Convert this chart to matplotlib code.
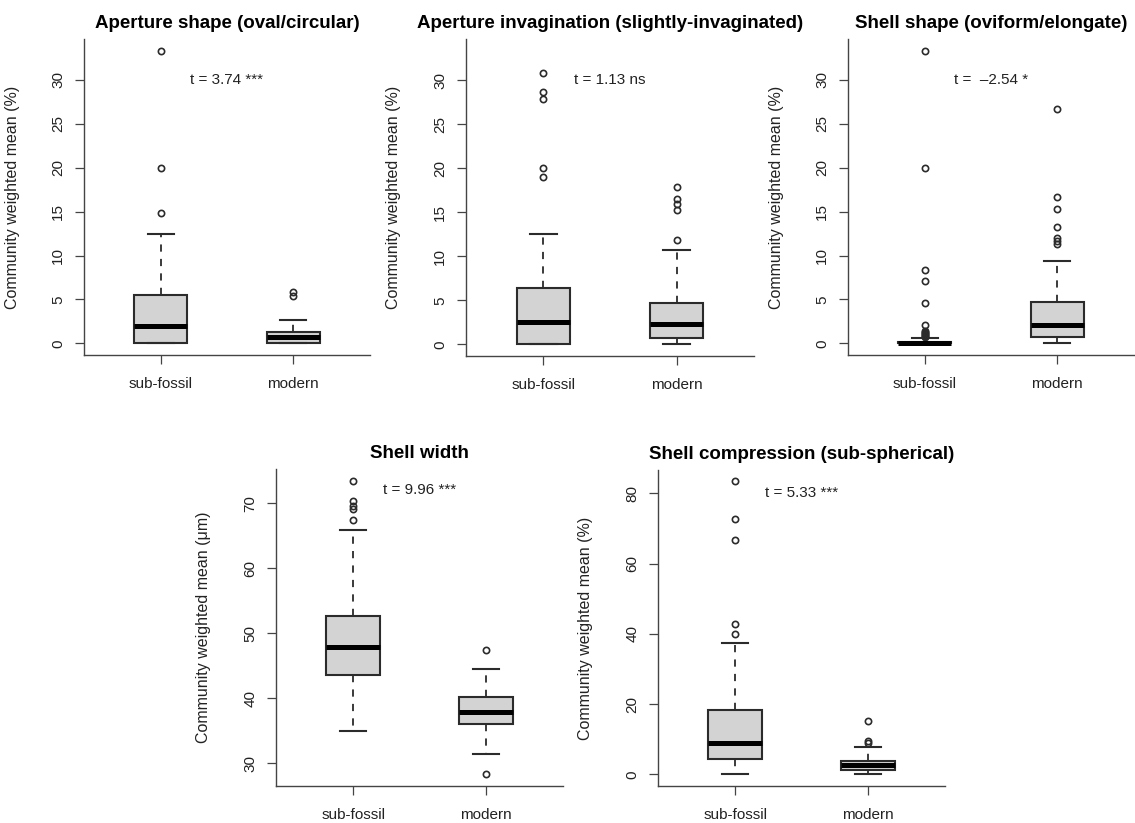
import matplotlib
matplotlib.use("Agg")
import matplotlib.pyplot as plt

plt.rcParams['font.family'] = ['Liberation Sans', 'DejaVu Sans']

groups = ["sub-fossil", "modern"]

titles = ["Aperture shape (oval/circular)",
          "Aperture invagination (slightly-invaginated)",
          "Shell shape (oviform/elongate)",
          "Shell width",
          "Shell compression (sub-spherical)"]
ylabels = ["Community weighted mean (%)"] * 3 + \
          ["Community weighted mean (\u03bcm)", "Community weighted mean (%)"]
t_labels = ["t = 3.74 ***", "t = 1.13 ns", "t =  \u20132.54 *",
            "t = 9.96 ***", "t = 5.33 ***"]
t_ypos = [30, 30, 30, 72, 80]

# box stats: whislo, q1, median, q3, whishi
ap_shape_sub = [0, 0, 2.0, 5.5, 12.5]
ap_shape_sub_out = [14.9, 20.0, 33.3]
ap_shape_mod = [0, 0, 0.7, 1.33, 2.65]
ap_shape_mod_out = [5.4, 5.9]

ap_inv_sub = [0, 0, 2.5, 6.35, 12.5]
ap_inv_sub_out = [19.0, 20.0, 27.9, 28.7, 30.8]
ap_inv_mod = [0, 0.68, 2.33, 4.66, 10.66]
ap_inv_mod_out = [11.8, 15.3, 15.9, 16.5, 17.9]

sh_shape_sub = [0, 0, 0.05, 0.2, 0.55]
sh_shape_sub_out = [0.7, 0.85, 1.0, 1.1, 1.2, 1.3, 1.45, 2.1, 4.55, 7.15, 8.3, 20.0, 33.3]
sh_shape_mod = [0, 0.68, 2.1, 4.7, 9.37]
sh_shape_mod_out = [11.3, 11.7, 12.0, 13.3, 15.35, 16.65, 26.7]

sh_width_sub = [34.97, 43.54, 47.85, 52.67, 65.9]
sh_width_sub_out = [67.5, 69.2, 69.6, 70.4, 73.5]
sh_width_mod = [31.5, 36.05, 37.85, 40.26, 44.46]
sh_width_mod_out = [28.4, 47.5]

sh_comp_sub = [0, 4.37, 9.03, 18.24, 37.43]
sh_comp_sub_out = [40.1, 42.85, 66.7, 72.7, 83.4]
sh_comp_mod = [0, 1.33, 2.66, 3.9, 7.9]
sh_comp_mod_out = [8.84, 9.5, 15.2]

panels = [
    (ap_shape_sub, ap_shape_sub_out, ap_shape_mod, ap_shape_mod_out),
    (ap_inv_sub, ap_inv_sub_out, ap_inv_mod, ap_inv_mod_out),
    (sh_shape_sub, sh_shape_sub_out, sh_shape_mod, sh_shape_mod_out),
    (sh_width_sub, sh_width_sub_out, sh_width_mod, sh_width_mod_out),
    (sh_comp_sub, sh_comp_sub_out, sh_comp_mod, sh_comp_mod_out),
]

ylims = [(-1.33, 34.67), (-1.33, 34.67), (-1.33, 34.67), (26.5, 75.3), (-3.33, 86.67)]
yticks = [range(0, 31, 5), range(0, 31, 5), range(0, 31, 5),
          range(30, 71, 10), range(0, 81, 20)]

W, H = 1135, 823
# axes boxes in pixels: left, right, top, bottom
boxes = [(84, 370, 39, 355), (466, 754, 39, 356), (848, 1134, 39, 355),
         (276, 563, 469, 786), (658, 945, 470, 786)]

dark = '#2b2b2b'


def make_stats(vals, out, label):
    lo, q1, med, q3, hi = vals
    return dict(label=label, whislo=lo, q1=q1, med=med, q3=q3, whishi=hi, fliers=out)


fig = plt.figure(figsize=(W / 100, H / 100), dpi=100)

for i, (sub, sub_out, mod, mod_out) in enumerate(panels):
    l, r, t, b = boxes[i]
    ax = fig.add_axes([l / W, 1 - b / H, (r - l) / W, (b - t) / H])
    stats = [make_stats(sub, sub_out, groups[0]), make_stats(mod, mod_out, groups[1])]
    ax.bxp(stats, positions=[1, 2], widths=0.4, capwidths=0.2, patch_artist=True,
           boxprops=dict(facecolor='#d3d3d3', edgecolor=dark, linewidth=1.5),
           whiskerprops=dict(color=dark, linewidth=1.3, linestyle=(0, (4, 4))),
           capprops=dict(color=dark, linewidth=1.5),
           medianprops=dict(color='black', linewidth=3.6, solid_capstyle='butt'),
           flierprops=dict(marker='o', markerfacecolor='none', markeredgecolor=dark,
                           markersize=4.5, markeredgewidth=1.2))
    ax.set_xlim(0.42, 2.58)
    ax.set_ylim(*ylims[i])
    ax.set_yticks(list(yticks[i]))
    ax.set_xticks([1, 2])
    ax.set_xticklabels(groups)
    for s in ['top', 'right']:
        ax.spines[s].set_visible(False)
    for s in ['left', 'bottom']:
        ax.spines[s].set_color('#444444')
        ax.spines[s].set_linewidth(1.0)
    ax.tick_params(direction='out', length=6.5, width=0.9, color='#444444',
                   labelsize=11, labelcolor='#222222', pad=7)
    ax.tick_params(axis='x', pad=9)
    for lab in ax.get_yticklabels():
        lab.set_rotation(90)
        lab.set_va('center')
    ax.set_ylabel(ylabels[i], fontsize=11.5, color='#222222')
    ax.yaxis.set_label_coords(-0.225, 0.5)
    ax.set_title(titles[i], fontsize=13.5, fontweight='bold', pad=8)
    ax.text(1.5, t_ypos[i], t_labels[i], ha='center', va='center', fontsize=11,
            color='#222222')

fig.savefig('out.png', dpi=100)
